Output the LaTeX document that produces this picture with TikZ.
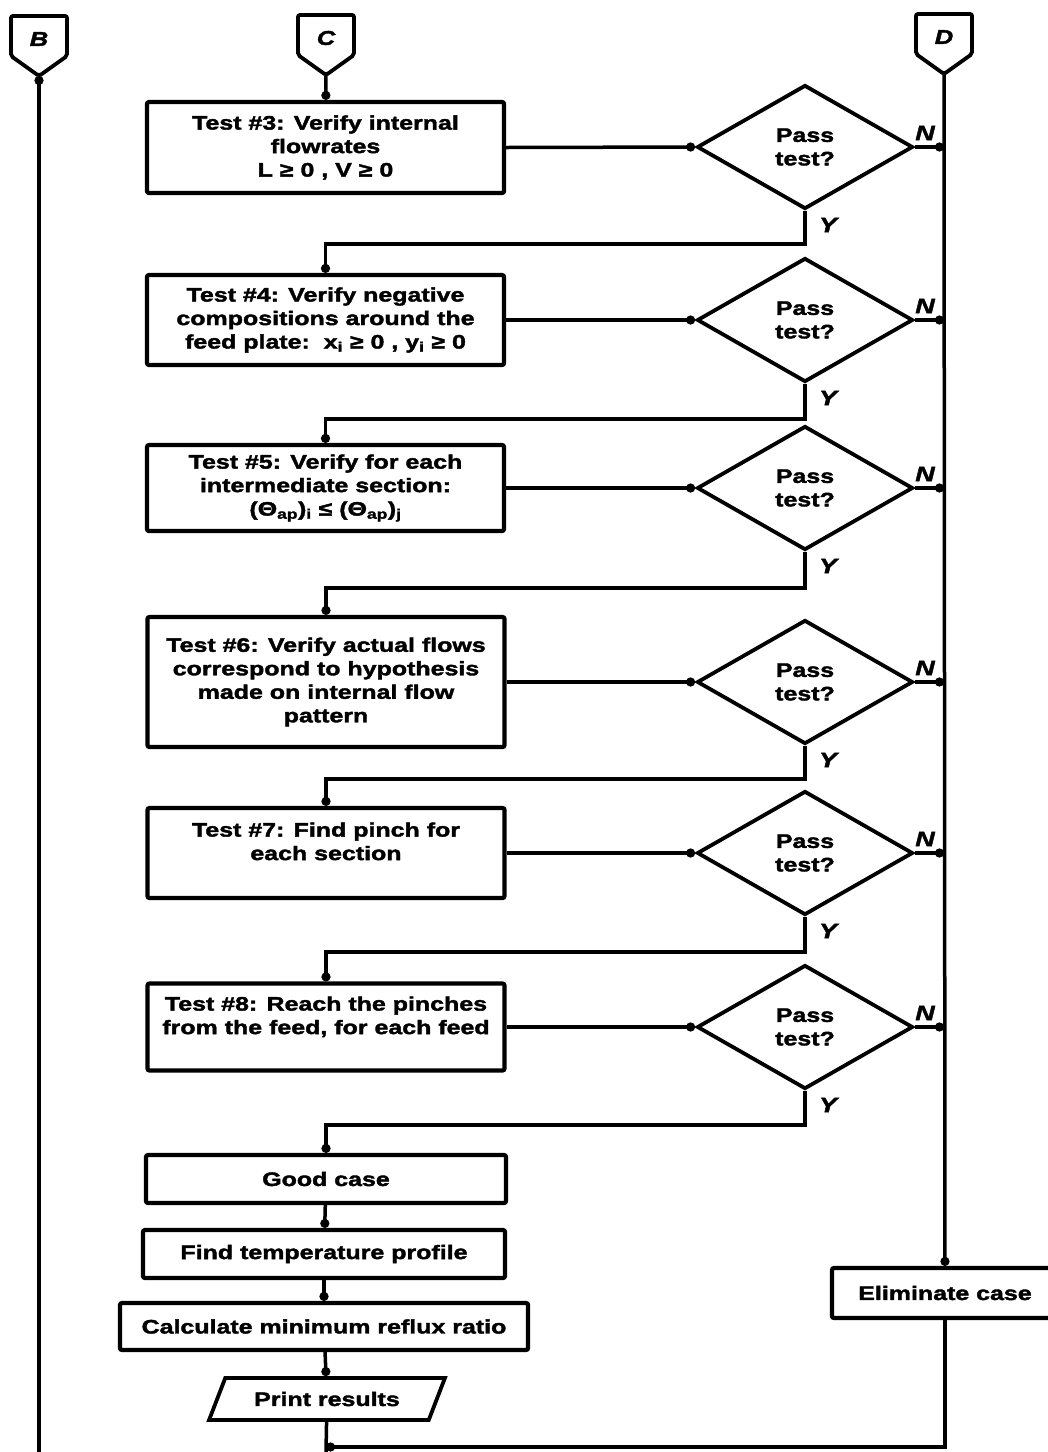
\documentclass[tikz,border=0pt]{standalone}
\usepackage{fontspec}
\setmainfont{Liberation Sans}[FakeStretch=1.28,FakeBold=2]
\usetikzlibrary{shapes.geometric,arrows.meta,calc}
\begin{document}
\begin{tikzpicture}[x=1pt,y=-1pt,
  every node/.style={font=\bfseries\fontsize{19.5}{23.5}\selectfont},
  proc/.style={draw,line width=4.2pt,rounded corners=2pt,align=center,inner sep=2pt},
  test/.style={proc,minimum width=357pt},
  decide/.style={draw,diamond,line width=3.8pt,aspect=1.74,inner sep=0pt,
    minimum width=216pt,minimum height=124pt,align=center},
  io/.style={draw,trapezium,trapezium left angle=60,trapezium right angle=120,
    trapezium stretches=true,line width=3.8pt,minimum width=236pt,minimum height=42pt},
  flow/.style={line width=3.5pt,-{Circle[length=9pt]}},
  plain/.style={line width=3.5pt},
  yn/.style={font=\bfseries\itshape\fontsize{21}{24}\selectfont},
  shieldtxt/.style={font=\bfseries\itshape\fontsize{20}{22}\selectfont}]
\useasboundingbox (0,0) rectangle (1048,1452);
\clip (0,0) rectangle (1048,1452);

% off-page connectors
\foreach \nm/\cx/\ty/\lt in {B/39/16/B,C/326/15/C,D/944/14/D}{
  \draw[line width=3.8pt,rounded corners=2pt]
    (\cx-28,\ty) -- (\cx+28,\ty) -- (\cx+28,\ty+40) -- (\cx,\ty+60)
    -- (\cx-28,\ty+40) -- cycle;
  \coordinate (\nm) at (\cx,\ty+60);
  \node[shieldtxt] at (\cx,\ty+23) {\lt};
}

% test boxes
\node[test,minimum height=91pt] (t3) at (325.5,147.5)
  {Test \#3: Verify internal\\flowrates\\L ≥ 0 , V ≥ 0};
\node[test,minimum height=90pt] (t4) at (325.5,320)
  {Test \#4: Verify negative\\compositions around the\\feed plate:\ \ x\textsubscript{i} ≥ 0 , y\textsubscript{i} ≥ 0};
\node[test,minimum height=86pt] (t5) at (325.5,488)
  {Test \#5: Verify for each\\intermediate section:\\(Θ\textsubscript{ap})\textsubscript{i} ≤ (Θ\textsubscript{ap})\textsubscript{j}};
\node[test,minimum height=130pt] (t6) at (326,682)
  {Test \#6: Verify actual flows\\correspond to hypothesis\\made on internal flow\\pattern};
\node[test,minimum height=90pt] (t7) at (326,853)
  {Test \#7: Find pinch for\\each section\\\mbox{}};
\node[test,minimum height=87pt] (t8) at (326,1027)
  {Test \#8: Reach the pinches\\from the feed, for each feed\\\mbox{}};

% decisions
\foreach \k/\yy in {3/147,4/320,5/488,6/682,7/853,8/1027}{
  \node[decide] (d\k) at (805,\yy) {Pass\\test?};
  \coordinate (n\k) at (944,\yy);
  \node[yn] at (925,\yy-14) {N};
  \node[yn] at (828,\yy+78) {Y};
}

% closing steps
\node[proc,minimum width=360pt,minimum height=48pt] (good) at (326,1179) {Good case};
\node[proc,minimum width=362pt,minimum height=48pt] (temp) at (324,1254) {Find temperature profile};
\node[proc,minimum width=408pt,minimum height=47pt] (calc) at (324,1326.5) {Calculate minimum reflux ratio};
\node[io] (print) at (327,1399) {Print results};
\node[proc,minimum width=226pt,minimum height=50pt] (elim) at (945,1293) {Eliminate case};

\coordinate (bot) at (326,1452);
\coordinate (join) at (326,1447);
\coordinate (Bfoot) at (39,1452);

% connectors
\draw[flow] (C) -- (t3);
\foreach \k in {3,...,8}{
  \draw[flow] (t\k.east) -- (d\k.west);
  \draw[flow] (d\k.east) -- (n\k);
}
\draw[flow] (d3.south) -- ++(0,33) -| (t4.north);
\draw[flow] (d4.south) -- ++(0,35) -| (t5.north);
\draw[flow] (d5.south) -- ++(0,36) -| (t6.north);
\draw[flow] (d6.south) -- ++(0,33) -| (t7.north);
\draw[flow] (d7.south) -- ++(0,35) -| (t8.north);
\draw[flow] (d8.south) -- ++(0,34) -| (good.north);
\draw[flow] (good) -- (temp);
\draw[flow] (temp) -- (calc);
\draw[flow] (calc) -- (print);
\draw[plain] (print) -- (bot);
\draw[flow] (D) -- (elim);
\draw[flow] (elim.south) |- (join);
\draw[flow] (Bfoot) -- (B);
\end{tikzpicture}
\end{document}
